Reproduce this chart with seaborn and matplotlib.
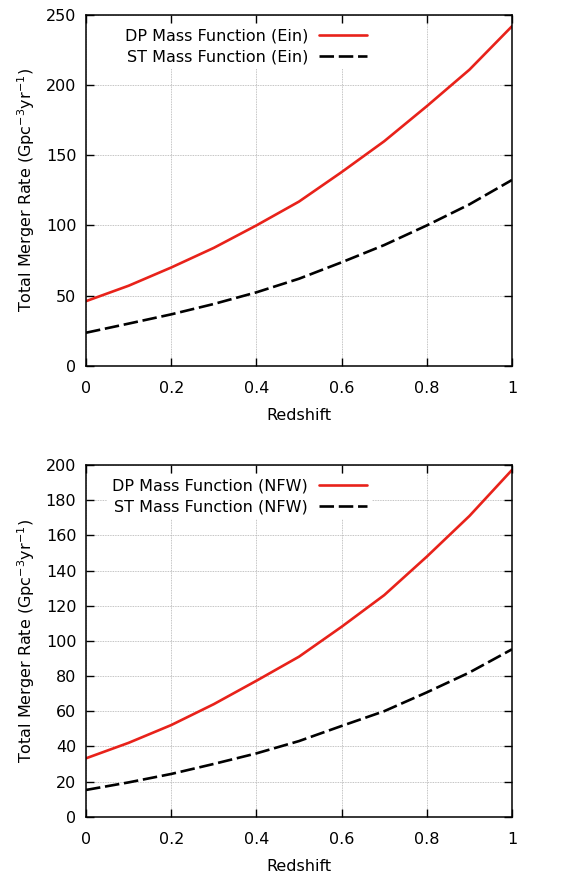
import numpy as np
import pandas as pd
import matplotlib
matplotlib.use("Agg")
import matplotlib.pyplot as plt
import seaborn as sns

redshift = [0.0, 0.1, 0.2, 0.3, 0.4, 0.5, 0.6, 0.7, 0.8, 0.9, 1.0]
dp_ein = [46, 57, 70, 84, 100, 117, 138, 160, 185, 211, 242]
st_ein = [23.5, 30, 36.6, 44, 52.3, 62, 73.7, 86, 100, 115, 132.4]
dp_nfw = [33.2, 42, 52.1, 64, 77.3, 91, 108, 126, 147.9, 171, 197.2]
st_nfw = [15.2, 19.5, 24.3, 30, 36, 43, 51.6, 60, 70.7, 82, 95.2]

xticks = [0, 0.2, 0.4, 0.6, 0.8, 1]
xticklabels = ["0", "0.2", "0.4", "0.6", "0.8", "1"]
yticks_top = [0, 50, 100, 150, 200, 250]
yticks_bot = [0, 20, 40, 60, 80, 100, 120, 140, 160, 180, 200]

sns.set_style("ticks")
plt.rcParams['font.family'] = ['DejaVu Sans']
plt.rcParams['font.size'] = 11.5
plt.rcParams['text.color'] = 'black'
plt.rcParams['axes.labelcolor'] = 'black'

fig = plt.figure(figsize=(5.70, 8.81), dpi=100)
ax1 = fig.add_axes([0.1509, 0.5849, 0.7474, 0.3981])
ax2 = fig.add_axes([0.1509, 0.0730, 0.7474, 0.3992])

RED = "#e8221a"

def draw(ax, dp, st, lab_dp, lab_st, yticks, ymax, anchor):
    df = pd.DataFrame({"z": redshift, "dp": dp, "st": st})
    sns.lineplot(data=df, x="z", y="dp", ax=ax, color=RED, lw=1.9, label=lab_dp)
    sns.lineplot(data=df, x="z", y="st", ax=ax, color="black", lw=1.9,
                 dashes=False, label=lab_st)
    ax.lines[1].set_dashes((5.5, 1.8))
    ax.set_xlim(0, 1)
    ax.set_ylim(0, ymax)
    ax.set_xticks(xticks)
    ax.set_xticklabels(xticklabels)
    ax.set_yticks(yticks)
    ax.grid(True, color="#b0b0b0", lw=0.6, ls=(0, (1, 1)))
    ax.set_axisbelow(True)
    ax.tick_params(direction="in", length=6, width=1, top=True, right=True,
                   labelsize=11.5, colors="black")
    ax.tick_params(axis="x", pad=11)
    ax.tick_params(axis="y", pad=7)
    for s in ax.spines.values():
        s.set_linewidth(1.1)
        s.set_color("black")
        s.set_visible(True)
    ax.set_xlabel("Redshift", fontsize=11.5, labelpad=9, color="black")
    ax.set_ylabel("Total Merger Rate (Gpc$^{-3}$yr$^{-1}$)", fontsize=11.5,
                  labelpad=6, color="black")
    leg = ax.legend(loc="upper right", bbox_to_anchor=anchor, markerfirst=False,
                    handlelength=3.0, handletextpad=0.7, labelspacing=0.35,
                    borderpad=0.3, borderaxespad=0, frameon=True, fancybox=False,
                    fontsize=11.5, labelcolor="black")
    leg.get_frame().set_edgecolor("none")
    leg.get_frame().set_facecolor("white")
    leg.get_frame().set_alpha(1)

draw(ax1, dp_ein, st_ein, "DP Mass Function (Ein)", "ST Mass Function (Ein)",
     yticks_top, 250, (0.671, 0.975))
draw(ax2, dp_nfw, st_nfw, "DP Mass Function (NFW)", "ST Mass Function (NFW)",
     yticks_bot, 200, (0.671, 0.975))

fig.savefig("out.png", dpi=100)
